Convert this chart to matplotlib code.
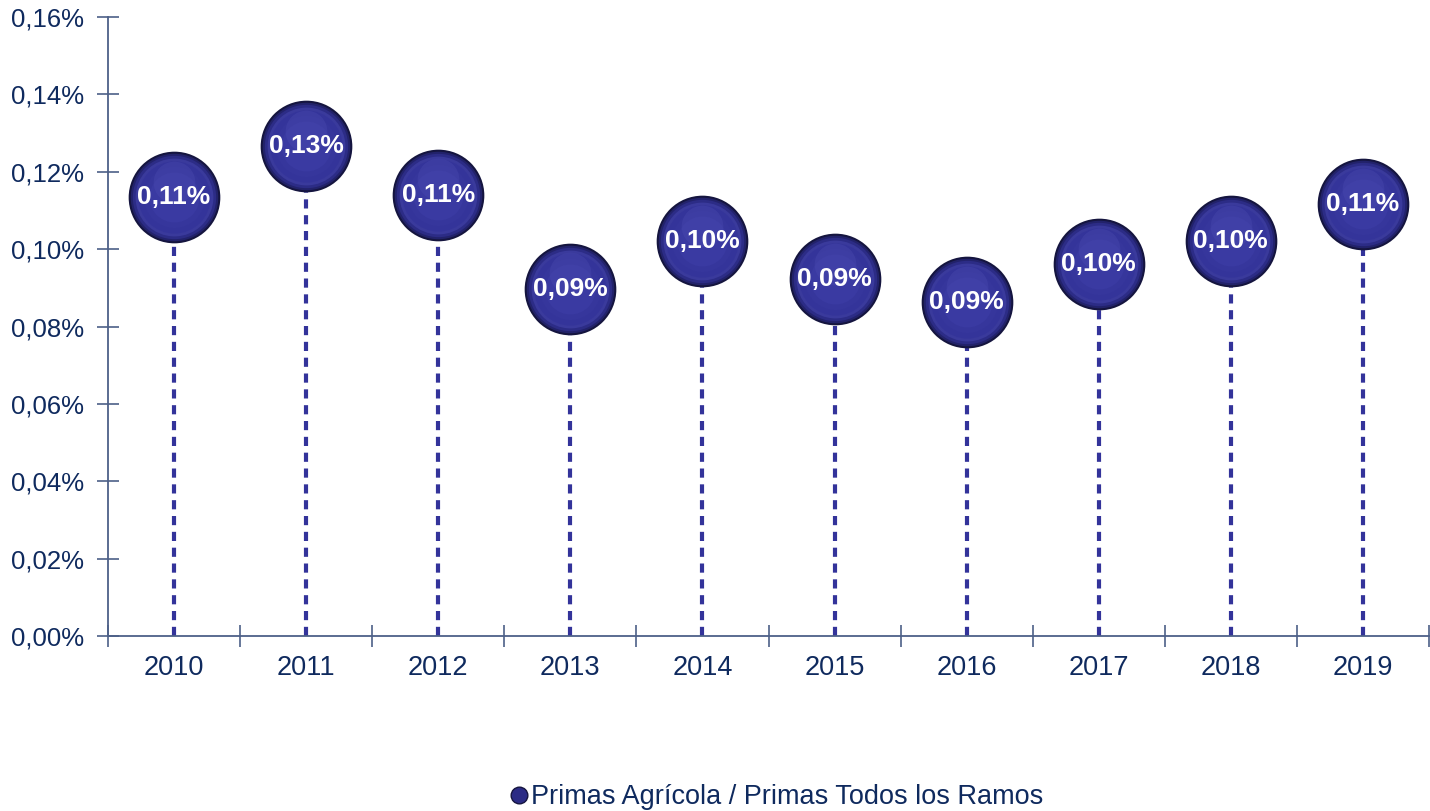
import matplotlib
matplotlib.use("Agg")
import matplotlib.pyplot as plt
from matplotlib.ticker import FuncFormatter
from matplotlib.lines import Line2D

years = ["2010", "2011", "2012", "2013", "2014", "2015", "2016", "2017", "2018", "2019"]
values = [0.1134, 0.1266, 0.1140, 0.0897, 0.1021, 0.0922, 0.0863, 0.0961, 0.1021, 0.1116]
labels = ["0,11%", "0,13%", "0,11%", "0,09%", "0,10%", "0,09%", "0,09%", "0,10%", "0,10%", "0,11%"]
yticks = [0.00, 0.02, 0.04, 0.06, 0.08, 0.10, 0.12, 0.14, 0.16]
series_name = "Primas Agrícola / Primas Todos los Ramos"

plt.rcParams['font.family'] = ['Liberation Sans', 'DejaVu Sans']
fig = plt.figure(figsize=(14.3, 8.11), dpi=100)
ax = fig.add_axes([108/1430, 1-636/811, 1321/1430, (636-17)/811])

axis_col = "#4d6088"
text_col = "#0f2a5e"
x = list(range(len(years)))

# stems
for xi, v in zip(x, values):
    ax.plot([xi, xi], [0, v], color="#33339a", lw=3, ls=(0, (2.2, 1.6)), zorder=2)

# bubbles with layered shading
layers = [(66, "#15153f"), (63, "#22226a"), (60, "#2c2c86"), (56, "#3a3a9c"), (52, "#34349a"), (44, "#36369c"), (36, "#3a3aa2")]
for s, c in layers:
    ax.scatter(x, values, s=s**2, color=c, zorder=3, linewidths=0)
# highlight
ax.scatter(x, [v + 0.0040 for v in values], s=(30)**2, color="#5050b4", alpha=0.3, zorder=3, linewidths=0)

for xi, v, lab in zip(x, values, labels):
    ax.text(xi, v, lab, color="white", fontsize=19, fontweight="bold", ha="center", va="center", zorder=5)

ax.set_xlim(-0.5, len(years) - 0.5)
ax.set_ylim(0, 0.16)
ax.set_yticks(yticks)
ax.yaxis.set_major_formatter(FuncFormatter(lambda v, p: f"{v:.2f}%".replace(".", ",")))
ax.set_xticks([i - 0.5 for i in range(len(years) + 1)])
ax.set_xticklabels([])
ax.set_xticks(x, minor=True)
ax.set_xticklabels(years, minor=True)
ax.tick_params(axis="x", which="minor", length=0, pad=14, labelsize=19.5, labelcolor=text_col)
ax.tick_params(axis="x", which="major", direction="inout", length=16, color=axis_col, width=1.2)
ax.tick_params(axis="y", direction="inout", length=16, color=axis_col, width=1.2, labelsize=18.5, labelcolor=text_col, pad=9)

for sp in ["top", "right"]:
    ax.spines[sp].set_visible(False)
for sp in ["left", "bottom"]:
    ax.spines[sp].set_color(axis_col)
    ax.spines[sp].set_linewidth(1.3)

handle = Line2D([], [], marker="o", ls="none", markersize=12, markerfacecolor="#2b2b85", markeredgecolor="#15153f")
fig.legend([handle], [series_name], loc="center", bbox_to_anchor=(775/1430, 1-797/811), frameon=False,
           fontsize=19.5, labelcolor=text_col, handletextpad=0.0, handlelength=0.9, borderpad=0)

fig.savefig("out.png", dpi=100)
